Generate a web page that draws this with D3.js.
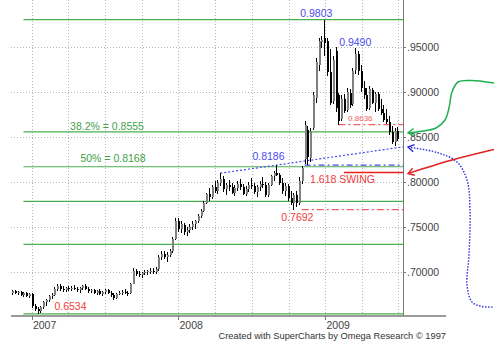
<!DOCTYPE html>
<html>
<head>
<meta charset="utf-8">
<script src="https://cdn.jsdelivr.net/npm/d3@7"></script>
<style>
  html, body { margin: 0; padding: 0; background: #fff; }
  svg { display: block; font-family: "Liberation Sans", Arial, sans-serif; }
</style>
</head>
<body>
<svg id="chart" width="494" height="351"></svg>
<script>
// weekly bars, first one is the week of 13 Nov 2006
const firstWeek = new Date(2006, 10, 13);
// [open, high, low, close]
const ohlc = [
  [.6770, .6800, .6745, .6785], [.6785, .6800, .6750, .6760], [.6760, .6790, .6740, .6775],
  [.6775, .6790, .6735, .6745], [.6745, .6775, .6725, .6760], [.6760, .6780, .6720, .6735],
  [.6735, .6770, .6715, .6750], [.6750, .6765, .6600, .6620], [.6620, .6640, .6560, .6585],
  [.6585, .6610, .6534, .6560], [.6560, .6625, .6545, .6610], [.6610, .6680, .6590, .6660],
  [.6660, .6700, .6620, .6690], [.6690, .6740, .6660, .6730], [.6730, .6760, .6700, .6745],
  [.6745, .6830, .6730, .6815], [.6815, .6865, .6790, .6840], [.6840, .6860, .6790, .6810],
  [.6810, .6845, .6780, .6800], [.6800, .6830, .6775, .6820], [.6820, .6840, .6790, .6805],
  [.6805, .6840, .6785, .6825], [.6825, .6850, .6800, .6815], [.6815, .6835, .6780, .6795],
  [.6795, .6830, .6770, .6820], [.6820, .6855, .6800, .6840], [.6840, .6860, .6795, .6810],
  [.6810, .6830, .6770, .6790], [.6790, .6815, .6760, .6795], [.6795, .6810, .6750, .6770],
  [.6770, .6800, .6745, .6785], [.6785, .6805, .6740, .6755], [.6755, .6790, .6730, .6775],
  [.6775, .6810, .6755, .6795], [.6795, .6815, .6750, .6765], [.6765, .6790, .6720, .6740],
  [.6740, .6760, .6685, .6705], [.6705, .6770, .6695, .6755], [.6755, .6790, .6740, .6770],
  [.6770, .6795, .6745, .6780], [.6780, .6805, .6750, .6770], [.6770, .6790, .6735, .6760],
  [.6760, .6880, .6750, .6870], [.6870, .7040, .6860, .7010], [.7010, .7030, .6950, .6975],
  [.6975, .7010, .6940, .6960], [.6960, .7000, .6935, .6985], [.6985, .7020, .6960, .6995],
  [.6995, .7025, .6970, .7005], [.7005, .7040, .6980, .7010], [.7010, .7040, .6975, .6995],
  [.6995, .7050, .6980, .7030], [.7030, .7190, .7010, .7160], [.7160, .7230, .7130, .7200],
  [.7200, .7235, .7140, .7160], [.7160, .7220, .7110, .7190], [.7190, .7250, .7160, .7230],
  [.7230, .7390, .7210, .7370], [.7370, .7600, .7350, .7560], [.7560, .7600, .7440, .7480],
  [.7480, .7570, .7430, .7530], [.7520, .7545, .7410, .7440], [.7440, .7500, .7400, .7460],
  [.7460, .7530, .7430, .7500], [.7500, .7560, .7470, .7530], [.7530, .7580, .7480, .7560],
  [.7560, .7640, .7540, .7620], [.7620, .7700, .7600, .7680], [.7680, .7790, .7660, .7770],
  [.7770, .7880, .7750, .7860], [.7860, .7930, .7790, .7830], [.7830, .7960, .7810, .7940],
  [.7940, .8010, .7880, .7900], [.7900, .8020, .7870, .7990], [.7990, .8096, .7950, .8030],
  [.8030, .8060, .7890, .7920], [.7920, .7990, .7850, .7960], [.7960, .8020, .7900, .7940],
  [.7940, .7990, .7860, .7880], [.7880, .7960, .7840, .7930], [.7930, .8010, .7900, .7980],
  [.7980, .8030, .7910, .7940], [.7940, .7980, .7850, .7870], [.7870, .7950, .7840, .7920],
  [.7920, .8000, .7890, .7970], [.7970, .8040, .7920, .7950], [.7950, .7990, .7860, .7890],
  [.7890, .7960, .7830, .7940], [.7940, .8010, .7900, .7980], [.7980, .8050, .7930, .7960],
  [.7960, .8000, .7830, .7850], [.7850, .7990, .7830, .7970], [.7970, .8080, .7950, .8060],
  [.8060, .8120, .8010, .8100], [.8100, .8186, .8060, .8080], [.8080, .8100, .7960, .7990],
  [.7990, .8040, .7870, .7900], [.7900, .7990, .7840, .7950], [.7950, .7980, .7790, .7820],
  [.7820, .7900, .7740, .7770], [.7770, .7880, .7692, .7850], [.7850, .7900, .7720, .7760],
  [.7760, .8050, .7740, .8010], [.8010, .8180, .7980, .8150], [.8250, .8680, .8200, .8630],
  [.8580, .8620, .8190, .8280], [.8260, .8600, .8220, .8560], [.8600, .9000, .8580, .8960],
  [.8930, .9380, .8880, .9330], [.9300, .9600, .9230, .9560], [.9550, .9620, .9490, .9580],
  [.9600, .9803, .9400, .9540], [.9560, .9600, .9180, .9220], [.9220, .9480, .8850, .8880],
  [.8900, .9400, .8870, .9350], [.9450, .9500, .8780, .8820], [.8960, .8990, .8636, .8680],
  [.8700, .8960, .8680, .8920], [.8920, .8980, .8760, .8790], [.8800, .9040, .8780, .9000],
  [.8990, .9030, .8820, .8850], [.8860, .9260, .8840, .9230], [.9240, .9490, .9200, .9420],
  [.9420, .9450, .9190, .9230], [.9230, .9300, .9000, .9040], [.9040, .9120, .8920, .8960],
  [.8960, .9040, .8790, .8810], [.8820, .9070, .8800, .9030], [.9020, .9040, .8860, .8880],
  [.8880, .9000, .8780, .8980], [.8980, .9000, .8790, .8810], [.8810, .8920, .8740, .8760],
  [.8770, .8850, .8660, .8690], [.8700, .8810, .8640, .8660], [.8660, .8730, .8520, .8550],
  [.8550, .8620, .8420, .8440], [.8440, .8600, .8400, .8560], [.8560, .8610, .8450, .8480]
];

const priceTicks = [0.70, 0.75, 0.80, 0.85, 0.90, 0.95];
const yearTicks = [new Date(2007, 0, 1), new Date(2008, 0, 1), new Date(2009, 0, 1)];

// retracement grid of the 0.6534 -> 0.9803 swing
const fibLevels = [0.9803, 0.8555, 0.8168, 0.7783, 0.7306, 0.6534];
const fibFrom = new Date(2006, 11, 11);
const fibTexts = ['38.2% = 0.8555', '50% = 0.8168'];
const fibTextLevels = [0.8555, 0.8168];

// swing points marked on the chart (bar index, price)
const swingBars = [111, 122, 94, 116, 100, 9];
const swingPrices = [0.9803, 0.9490, 0.8186, 0.8636, 0.7692, 0.6534];

const swingTarget = 0.8104; // "1.618 SWING"
const trendBars = [74, 94]; // highs joined by the blue trend line

const svg = d3.select('#chart');
const plotL = 11, plotR = 403, plotT = 0, plotB = 316;

const x = d3.scaleTime()
  .domain([new Date(2006, 10, 10), new Date(2009, 6, 13)])
  .range([plotL, plotR]);
const y = d3.scaleLinear()
  .domain([0.651, 1.002])
  .range([plotB, plotT]);

const barDate = (i) => d3.timeWeek.offset(firstWeek, i);
const bx = (i) => x(barDate(i));

const green = '#4cae4f';
const blue = '#4a4af0';
const red = '#f03c3c';
const labelSize = 10.5;

// dotted grid
const grid = svg.append('g')
  .attr('stroke', '#b8b8b8')
  .attr('stroke-dasharray', '1,2')
  .attr('shape-rendering', 'crispEdges');
grid.selectAll('line.h')
  .data(priceTicks)
  .join('line')
  .attr('x1', plotL).attr('x2', plotR)
  .attr('y1', (d) => Math.round(y(d)) + 0.5)
  .attr('y2', (d) => Math.round(y(d)) + 0.5);
grid.selectAll('line.v')
  .data(d3.timeMonth.every(3).range(new Date(2007, 0, 1), new Date(2009, 7, 1)))
  .join('line')
  .attr('x1', (d) => Math.round(x(d)) + 0.5)
  .attr('x2', (d) => Math.round(x(d)) + 0.5)
  .attr('y1', plotT).attr('y2', plotB);

// fibonacci lines
svg.append('g')
  .selectAll('line')
  .data(fibLevels)
  .join('line')
  .attr('x1', x(fibFrom)).attr('x2', plotR)
  .attr('y1', (d) => y(d)).attr('y2', (d) => y(d))
  .attr('stroke', green)
  .attr('stroke-width', 1.2);

svg.append('g')
  .attr('fill', '#45a049')
  .attr('font-size', labelSize)
  .selectAll('text')
  .data(fibTexts)
  .join('text')
  .attr('x', (d, i) => [107, 113][i])
  .attr('y', (d, i) => y(fibTextLevels[i]) - [2, 4.5][i])
  .attr('text-anchor', 'middle')
  .text((d) => d);

// horizontal marker lines
const hline = (value, fromBar, color, dash, width) => {
  svg.append('line')
    .attr('x1', bx(fromBar)).attr('x2', plotR)
    .attr('y1', y(value)).attr('y2', y(value))
    .attr('stroke', color)
    .attr('stroke-width', width)
    .attr('stroke-dasharray', dash);
};
hline(swingPrices[3], 116, '#f06060', '7,3,2,3', 1.2);
hline(swingPrices[4], 103, '#f06060', '7,3,2,3', 1.2);
hline(swingPrices[2], 104, blue, '6,3,2,3', 1.4);
hline(swingTarget, 118, '#e82020', null, 1.5);

// trend line through the two highs, carried to the right edge
const [ta, tb] = trendBars;
const slope = (y(ohlc[tb][1]) - y(ohlc[ta][1])) / (bx(tb) - bx(ta));
svg.append('line')
  .attr('x1', bx(ta)).attr('y1', y(ohlc[ta][1]))
  .attr('x2', plotR).attr('y2', y(ohlc[ta][1]) + slope * (plotR - bx(ta)))
  .attr('stroke', blue)
  .attr('stroke-width', 1.2)
  .attr('stroke-dasharray', '2,2');

// candles
const candles = svg.append('g').attr('shape-rendering', 'crispEdges');
candles.selectAll('line')
  .data(ohlc)
  .join('line')
  .attr('x1', (d, i) => Math.round(bx(i)) + 0.5)
  .attr('x2', (d, i) => Math.round(bx(i)) + 0.5)
  .attr('y1', (d) => y(d[1]))
  .attr('y2', (d) => y(d[2]))
  .attr('stroke', '#000');
candles.selectAll('rect')
  .data(ohlc)
  .join('rect')
  .attr('x', (d, i) => Math.round(bx(i)))
  .attr('width', 2)
  .attr('y', (d) => y(Math.max(d[0], d[3])))
  .attr('height', (d) => Math.max(1, Math.abs(y(d[0]) - y(d[3]))))
  .attr('fill', (d) => (d[3] >= d[0] ? '#808080' : '#000'));

// price labels at the swing points
const labelColors = [blue, blue, blue, '#f06060', red, red];
const labelDx = [-8, 0, -8, 22, 4, 33];
const labelDy = [-2.6, -1.6, -5.5, -4, 11.6, -3.6];
svg.append('g')
  .selectAll('text')
  .data(swingPrices)
  .join('text')
  .attr('x', (d, i) => bx(swingBars[i]) + labelDx[i])
  .attr('y', (d, i) => y(d) + labelDy[i])
  .attr('text-anchor', 'middle')
  .attr('font-size', (d, i) => (i === 3 ? 8 : labelSize))
  .attr('fill', (d, i) => labelColors[i])
  .text((d) => d.toFixed(4));

svg.append('text')
  .attr('x', 342.5)
  .attr('y', y(swingTarget) + 10.7)
  .attr('text-anchor', 'middle')
  .attr('font-size', labelSize)
  .attr('fill', red)
  .text('1.618 SWING');

// axes
const axisColor = '#7a7a7a';
svg.append('line')
  .attr('x1', plotR + 0.5).attr('x2', plotR + 0.5)
  .attr('y1', plotT).attr('y2', plotB)
  .attr('stroke', axisColor);
svg.append('line')
  .attr('x1', plotL).attr('x2', 446)
  .attr('y1', plotB).attr('y2', plotB)
  .attr('stroke', axisColor)
  .attr('stroke-width', 1.5);

const yAxis = svg.append('g').attr('font-size', labelSize).attr('fill', '#444');
yAxis.selectAll('line')
  .data(priceTicks)
  .join('line')
  .attr('x1', plotR).attr('x2', plotR + 3)
  .attr('y1', (d) => Math.round(y(d)) + 0.5)
  .attr('y2', (d) => Math.round(y(d)) + 0.5)
  .attr('stroke', axisColor);
yAxis.selectAll('text')
  .data(priceTicks)
  .join('text')
  .attr('x', plotR + 4)
  .attr('y', (d) => y(d) + 4)
  .text((d) => d3.format('.5f')(d).replace(/^0/, ''));

const xAxis = svg.append('g').attr('font-size', labelSize).attr('fill', '#444');
xAxis.selectAll('line')
  .data(yearTicks)
  .join('line')
  .attr('x1', (d) => Math.round(x(d)) + 0.5)
  .attr('x2', (d) => Math.round(x(d)) + 0.5)
  .attr('y1', plotB).attr('y2', plotB + 4)
  .attr('stroke', axisColor);
xAxis.selectAll('text')
  .data(yearTicks)
  .join('text')
  .attr('x', (d) => x(d) + 1)
  .attr('y', plotB + 13)
  .text(d3.timeFormat('%Y'));

svg.append('text')
  .attr('x', 446)
  .attr('y', 339)
  .attr('text-anchor', 'end')
  .attr('font-size', 9.3)
  .attr('fill', '#333')
  .text('Created with SuperCharts by Omega Research \u00a9 1997');

// hand-drawn arrows in the right margin
const arrowHead = (tip, from, color) => {
  const a = Math.atan2(from[1] - tip[1], from[0] - tip[0]);
  const len = 7, spread = 0.55;
  svg.append('path')
    .attr('d', `M${tip[0] + len * Math.cos(a - spread)},${tip[1] + len * Math.sin(a - spread)}`
      + `L${tip[0]},${tip[1]}`
      + `L${tip[0] + len * Math.cos(a + spread)},${tip[1] + len * Math.sin(a + spread)}`)
    .attr('fill', 'none')
    .attr('stroke', color)
    .attr('stroke-width', 1.4);
};
const curve = d3.line().curve(d3.curveCatmullRom);

const greenPts = [[494, 83], [471, 80.5], [458, 82], [452, 92], [449, 108],
  [445, 120], [436, 128], [420, 131.5], [408, y(fibLevels[1]) + 1]];
svg.append('path')
  .attr('d', curve(greenPts))
  .attr('fill', 'none').attr('stroke', '#1fb04e').attr('stroke-width', 1.5);
arrowHead(greenPts[greenPts.length - 1], greenPts[greenPts.length - 2], '#1fb04e');

const bluePts = [[408, y(0.8386)], [437, 152.5], [457, 162], [467, 180], [470, 210],
  [469, 255], [467, 285], [472, 302], [482, 306.5], [494, 307]];
svg.append('path')
  .attr('d', curve(bluePts))
  .attr('fill', 'none').attr('stroke', '#2a2ae0').attr('stroke-width', 1.4)
  .attr('stroke-dasharray', '1.5,1.5');
arrowHead(bluePts[0], bluePts[1], '#2a2ae0');

const redPts = [[494, 149.5], [452, 160], [408, y(swingTarget) + 1]];
svg.append('path')
  .attr('d', curve(redPts))
  .attr('fill', 'none').attr('stroke', '#e02020').attr('stroke-width', 1.3);
arrowHead(redPts[2], redPts[1], '#e02020');
</script>
</body>
</html>
